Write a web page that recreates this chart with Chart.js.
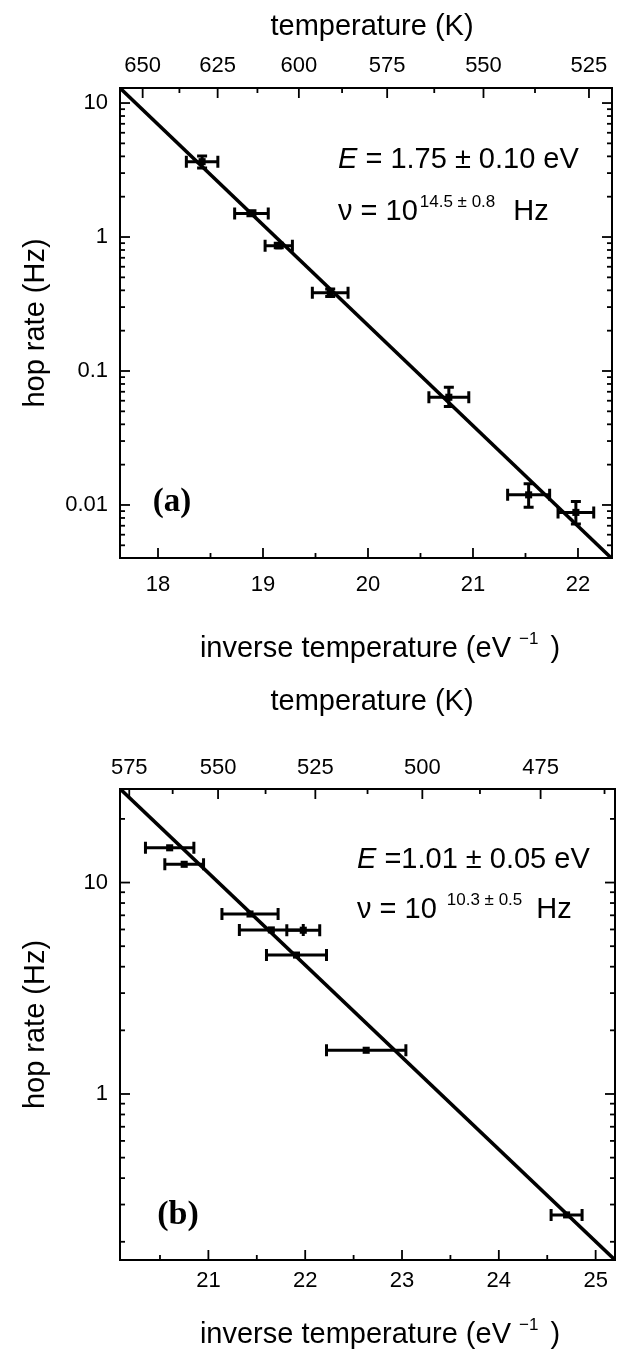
<!DOCTYPE html>
<html>
<head>
<meta charset="utf-8">
<script src="https://cdn.jsdelivr.net/npm/chart.js@4.4.0/dist/chart.umd.min.js"></script>
<style>
  html, body { margin: 0; padding: 0; background: #fff; }
  .panel { position: absolute; left: 0; width: 622px; height: 675px; }
</style>
</head>
<body>
<div class="panel" style="top:0"><canvas id="chartA" width="622" height="675"></canvas></div>
<div class="panel" style="top:675px"><canvas id="chartB" width="622" height="675"></canvas></div>
<script>
// Boltzmann constant (eV/K), puts the temperature ticks on the 1/kT axis
const kB = 8.617e-5;

// panel (a)
const aInvT = [18.42, 18.89, 19.15, 19.64, 20.77, 21.53, 21.98];
const aRate = [3.65, 1.50, 0.86, 0.384, 0.0637, 0.0119, 0.0088];
const aInvTErr = [0.15, 0.16, 0.13, 0.17, 0.19, 0.20, 0.17];
const aRateLow = [3.27, 1.44, 0.83, 0.36, 0.0543, 0.0096, 0.0072];
const aRateHigh = [4.02, 1.57, 0.90, 0.41, 0.0757, 0.0144, 0.0106];
const aFitX = [17.64, 22.32];
const aFitY = [12.9, 0.0040];
const aTempLabels = [650, 625, 600, 575, 550, 525];

// panel (b)
const bInvT = [20.60, 20.75, 21.43, 21.65, 21.98, 21.91, 22.63, 24.70];
const bRate = [14.6, 12.2, 7.1, 5.97, 5.95, 4.54, 1.61, 0.268];
const bInvTErr = [0.25, 0.20, 0.29, 0.33, 0.17, 0.31, 0.41, 0.16];
const bFitX = [20.09, 25.20];
const bFitY = [27.7, 0.164];
const bTempLabels = [575, 550, 525, 500, 475];

const FONT = "'Liberation Sans', Arial, sans-serif";
const SERIF = "'Liberation Serif', 'Times New Roman', serif";

function tempTicks(labels, min, max) {
  // labelled temperatures plus a minor tick halfway between them
  const step = labels[0] - labels[1];
  const out = [];
  for (let T = labels[0] + step / 2; T >= labels[labels.length - 1] - step; T -= step / 2) {
    const v = 1 / (kB * T);
    if (v >= min && v <= max) out.push({ value: v, major: labels.includes(T), T: T });
  }
  return out;
}

function linTicks(min, max) {
  const out = [];
  for (let v = Math.ceil(min * 2) / 2; v <= max; v += 0.5) {
    out.push({ value: v, major: Math.abs(v - Math.round(v)) < 1e-9 });
  }
  return out;
}

function logTicks(min, max) {
  const out = [];
  for (let e = Math.floor(Math.log10(min)); e <= Math.ceil(Math.log10(max)); e++) {
    for (let m = 1; m <= 9; m++) {
      const v = m * Math.pow(10, e);
      if (v >= min && v <= max) out.push({ value: v, major: m === 1, e: e });
    }
  }
  return out;
}

function drawRich(ctx, parts, x, y, align) {
  let w = 0;
  parts.forEach(p => { ctx.font = p.font; w += ctx.measureText(p.text).width + (p.gap || 0); });
  let cx = align === 'center' ? x - w / 2 : x;
  parts.forEach(p => {
    ctx.font = p.font;
    ctx.fillText(p.text, cx, y - (p.rise || 0));
    cx += ctx.measureText(p.text).width + (p.gap || 0);
  });
}

// inward tick marks on all four sides
const innerTicks = {
  id: 'innerTicks',
  afterDraw(chart) {
    const ctx = chart.ctx, area = chart.chartArea;
    ctx.save();
    ctx.strokeStyle = '#000';
    ctx.lineWidth = 1.8;
    Object.values(chart.scales).forEach(scale => {
      scale.ticks.forEach(t => {
        const len = t.major ? 10 : 5;
        const p = scale.getPixelForValue(t.value);
        ctx.beginPath();
        if (scale.position === 'bottom') { ctx.moveTo(p, area.bottom); ctx.lineTo(p, area.bottom - len); }
        if (scale.position === 'top') { ctx.moveTo(p, area.top); ctx.lineTo(p, area.top + len); }
        if (scale.position === 'left') { ctx.moveTo(area.left, p); ctx.lineTo(area.left + len, p); }
        if (scale.position === 'right') { ctx.moveTo(area.right, p); ctx.lineTo(area.right - len, p); }
        ctx.stroke();
      });
    });
    ctx.restore();
  }
};

// x and y error bars for the measured points
const errorBars = {
  id: 'errorBars',
  afterDatasetsDraw(chart) {
    const ctx = chart.ctx, xs = chart.scales.x, ys = chart.scales.y;
    ctx.save();
    ctx.strokeStyle = '#000';
    ctx.lineWidth = 3;
    chart.data.datasets[0].data.forEach(d => {
      const x0 = xs.getPixelForValue(d.x - d.xErr), x1 = xs.getPixelForValue(d.x + d.xErr);
      const y = ys.getPixelForValue(d.y), xc = xs.getPixelForValue(d.x);
      ctx.beginPath();
      ctx.moveTo(x0, y); ctx.lineTo(x1, y);
      ctx.moveTo(x0, y - 6); ctx.lineTo(x0, y + 6);
      ctx.moveTo(x1, y - 6); ctx.lineTo(x1, y + 6);
      if (d.yHi > d.yLo) {
        const ya = ys.getPixelForValue(d.yHi), yb = ys.getPixelForValue(d.yLo);
        ctx.moveTo(xc, ya); ctx.lineTo(xc, yb);
        ctx.moveTo(xc - 5, ya); ctx.lineTo(xc + 5, ya);
        ctx.moveTo(xc - 5, yb); ctx.lineTo(xc + 5, yb);
      }
      ctx.stroke();
    });
    ctx.restore();
  }
};

const texts = {
  id: 'texts',
  afterDraw(chart, args, opts) {
    const ctx = chart.ctx;
    ctx.save();
    ctx.fillStyle = '#000';
    ctx.textBaseline = 'alphabetic';
    opts.items.forEach(it => {
      if (it.rotate) {
        ctx.save();
        ctx.translate(it.x, it.y);
        ctx.rotate(-Math.PI / 2);
        ctx.textBaseline = 'middle';
        drawRich(ctx, it.parts, 0, 0, 'center');
        ctx.restore();
      } else {
        drawRich(ctx, it.parts, it.x, it.y, it.align);
      }
    });
    ctx.restore();
  }
};

function fixSize(w, h) {
  return function (scale) {
    if (w !== null) scale.width = w;
    if (h !== null) scale.height = h;
    scale.paddingLeft = scale.paddingRight = scale.paddingTop = scale.paddingBottom = 0;
  };
}

function makeChart(id, p) {
  const pts = p.invT.map((v, i) => ({
    x: v, y: p.rate[i], xErr: p.invTErr[i],
    yLo: p.rateLow ? p.rateLow[i] : p.rate[i],
    yHi: p.rateHigh ? p.rateHigh[i] : p.rate[i]
  }));
  const fit = p.fitX.map((v, i) => ({ x: v, y: p.fitY[i] }));
  const border = { display: true, color: '#000', width: 2 };
  const grid = { display: false, drawTicks: false };
  const tickFont = { family: FONT, size: 22 };
  const logLabel = (v, i, ticks) => {
    const t = ticks[i];
    if (!t.major) return '';
    return t.e >= 0 ? String(Math.pow(10, t.e)) : Math.pow(10, t.e).toFixed(-t.e);
  };

  return new Chart(document.getElementById(id), {
    type: 'scatter',
    data: {
      datasets: [{
        data: pts,
        pointStyle: 'rect',
        pointRadius: 5,
        backgroundColor: '#000',
        borderWidth: 0
      }, {
        data: fit,
        showLine: true,
        borderColor: '#000',
        borderWidth: 3.5,
        pointRadius: 0
      }]
    },
    options: {
      responsive: false,
      animation: false,
      layout: { padding: 0 },
      scales: {
        x: {
          type: 'linear', position: 'bottom', min: p.xMin, max: p.xMax,
          grid: grid, border: border,
          afterBuildTicks: s => { s.ticks = linTicks(p.xMin, p.xMax); },
          afterFit: fixSize(null, p.bottomH),
          ticks: {
            autoSkip: false, maxRotation: 0, padding: p.bottomPad, color: '#000', font: tickFont,
            callback: (v, i, ticks) => ticks[i].major ? String(Math.round(v)) : ''
          }
        },
        x2: {
          type: 'linear', position: 'top', min: p.xMin, max: p.xMax,
          grid: grid, border: border,
          afterBuildTicks: s => { s.ticks = tempTicks(p.tempLabels, p.xMin, p.xMax); },
          afterFit: fixSize(null, p.topH),
          ticks: {
            autoSkip: false, maxRotation: 0, padding: p.topPad, color: '#000', font: tickFont,
            callback: (v, i, ticks) => ticks[i].major ? String(ticks[i].T) : ''
          }
        },
        y: {
          type: 'logarithmic', position: 'left', min: p.yMin, max: p.yMax,
          grid: grid, border: border,
          afterBuildTicks: s => { s.ticks = logTicks(p.yMin, p.yMax); },
          afterFit: fixSize(120, null),
          ticks: { autoSkip: false, padding: 12, color: '#000', font: tickFont, callback: logLabel }
        },
        y2: {
          type: 'logarithmic', position: 'right', min: p.yMin, max: p.yMax,
          grid: grid, border: border,
          afterBuildTicks: s => { s.ticks = logTicks(p.yMin, p.yMax); },
          afterFit: fixSize(p.rightW, null),
          ticks: { display: false }
        }
      },
      plugins: {
        legend: { display: false },
        tooltip: { enabled: false },
        texts: { items: p.texts }
      }
    },
    plugins: [errorBars, innerTicks, texts]
  });
}

const T29 = `29px ${FONT}`;
const SUP = `17px ${FONT}`;

function axisTexts(topY, bottomY, midY) {
  return [
    { parts: [{ text: 'temperature (K)', font: T29 }], x: 372, y: topY, align: 'center' },
    { parts: [
        { text: 'inverse temperature (eV', font: T29, gap: 8 },
        { text: '\u22121', font: SUP, rise: 13, gap: 4 },
        { text: ' )', font: T29 }
      ], x: 380, y: bottomY, align: 'center' },
    { parts: [{ text: 'hop rate (Hz)', font: T29 }], x: 36, y: midY, rotate: true }
  ];
}

makeChart('chartA', {
  invT: aInvT, rate: aRate, invTErr: aInvTErr, rateLow: aRateLow, rateHigh: aRateHigh,
  fitX: aFitX, fitY: aFitY, tempLabels: aTempLabels,
  xMin: 17.638, xMax: 22.324, yMin: 0.00402, yMax: 12.95,
  topH: 88, bottomH: 117, rightW: 10, topPad: 9, bottomPad: 14,
  texts: axisTexts(35, 657, 323).concat([
    { parts: [
        { text: 'E', font: `italic 29px ${FONT}` },
        { text: ' = 1.75 \u00b1 0.10 eV', font: T29 }
      ], x: 338, y: 168 },
    { parts: [
        { text: '\u03bd = 10', font: T29, gap: 2 },
        { text: '14.5 \u00b1 0.8', font: SUP, rise: 13, gap: 18 },
        { text: 'Hz', font: T29 }
      ], x: 338, y: 220 },
    { parts: [{ text: '(a)', font: `bold 33px ${SERIF}` }], x: 172, y: 511, align: 'center' }
  ])
});

makeChart('chartB', {
  invT: bInvT, rate: bRate, invTErr: bInvTErr,
  fitX: bFitX, fitY: bFitY, tempLabels: bTempLabels,
  xMin: 20.087, xMax: 25.2, yMin: 0.164, yMax: 27.7,
  topH: 114, bottomH: 90, rightW: 7, topPad: 8, bottomPad: 8,
  texts: axisTexts(35, 668, 349.5).concat([
    { parts: [
        { text: 'E', font: `italic 29px ${FONT}` },
        { text: ' =1.01 \u00b1 0.05 eV', font: T29 }
      ], x: 357, y: 193 },
    { parts: [
        { text: '\u03bd = 10', font: T29, gap: 10 },
        { text: '10.3 \u00b1 0.5', font: SUP, rise: 13, gap: 14 },
        { text: 'Hz', font: T29 }
      ], x: 357, y: 243 },
    { parts: [{ text: '(b)', font: `bold 34px ${SERIF}` }], x: 178, y: 549, align: 'center' }
  ])
});
</script>
</body>
</html>
